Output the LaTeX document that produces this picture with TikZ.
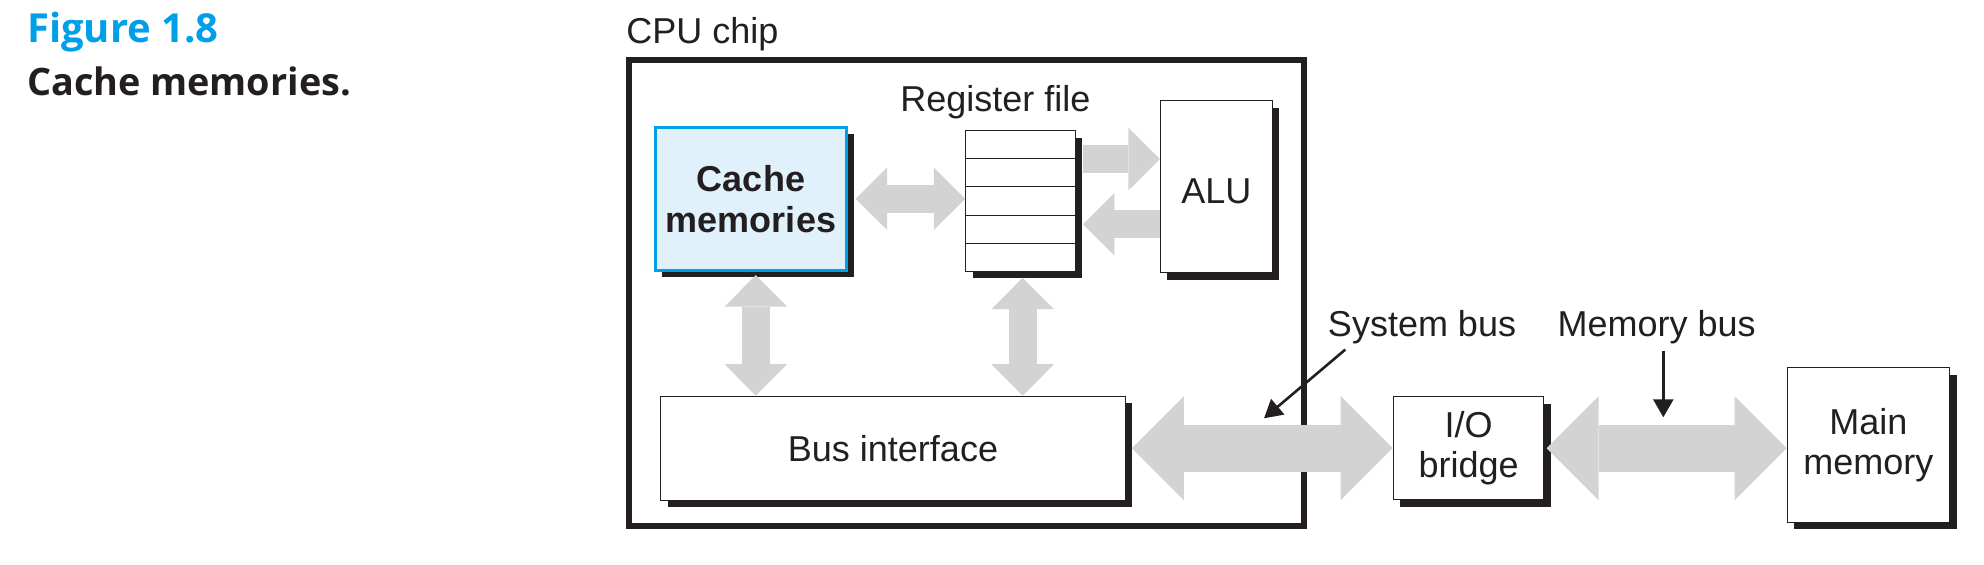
\documentclass[tikz,border=0pt]{standalone}
\usepackage{fontspec}
\setmainfont{Liberation Sans}
\newfontfamily\capfont{Open Sans}
\usetikzlibrary{arrows.meta, positioning, calc, shadows}
\definecolor{figcol}{HTML}{00A0E9}
\definecolor{cachecol}{HTML}{E1F1FB}
\definecolor{inkcol}{HTML}{231F20}
\definecolor{buscol}{HTML}{D3D3D3}

\begin{document}
\begin{tikzpicture}[
    x=0.5pt, y=-0.5pt,
    Fat/.tip={Triangle[width=31.25pt, length=15.75pt, line width=0pt]},
    Wide/.tip={Triangle[width=52pt, length=26pt, line width=0pt]},
    Ptr/.tip={Triangle[width=10pt, length=9pt]},
    unit/.style={
        draw=inkcol, fill=white, line width=0.5pt, align=center, inner sep=0pt,
        text=inkcol, font=\fontsize{18}{20}\selectfont,
        general shadow={fill=inkcol, shadow xshift=3.5pt, shadow yshift=-3.5pt}
    },
    tag/.style={
        font=\fontsize{18}{20}\selectfont, text=inkcol, inner sep=0pt
    },
    thinbus/.style={buscol, line width=13.85pt, Fat-Fat},
    thinfwd/.style={buscol, line width=13.85pt, -Fat},
    widebus/.style={buscol, line width=23.65pt, Wide-Wide},
    pointer/.style={draw=inkcol, line width=1.3pt, -Ptr},
]
\useasboundingbox (0,0) rectangle (1984,564);

% ── Caption ──
\node[anchor=base west, inner sep=0pt, text=figcol,
      font=\capfont\bfseries\fontsize{20}{24}\selectfont] (fignum) at (26.7,42.7) {Figure 1.8};
\node[anchor=base west, inner sep=0pt, text=inkcol,
      font=\capfont\bfseries\fontsize{18.9}{24}\selectfont] (figcap) at (26.7,95) {Cache memories.};

% ── CPU chip ──
\node[draw=inkcol, line width=3pt, minimum width=337.35pt, minimum height=233pt] (chip) at (966.3,293.3) {};
\node[tag, above right=3.2pt and 0pt of chip.north west] (chiplabel) {CPU chip};

% ── Units ──
\node[unit, fill=cachecol, draw=figcol, line width=1.35pt, minimum width=95.7pt, minimum height=71.5pt,
      font=\fontsize{18}{20.5}\selectfont\bfseries] (cache) at (751,198.8) {Cache\\memories};
\node[unit, minimum width=54.7pt, minimum height=70.2pt] (reg) at (1020.5,201) {};
\node[tag, above=5.5pt of reg.north, xshift=-12.6pt] (reglabel) {Register file};
\node[unit, minimum width=55.85pt, minimum height=86.15pt, text height=16.5pt] (alu) at (1216.3,186.7) {ALU};
\node[unit, minimum width=232.2pt, minimum height=52pt] (bus) at (893,448.2) {Bus interface};
\node[unit, minimum width=75.35pt, minimum height=51.5pt, right=133.5pt of bus] (io) {I/O\\bridge};
\node[unit, minimum width=81.3pt, minimum height=77.3pt, right=121.1pt of io, yshift=1.6pt] (mem) {Main\\memory};

% ── Register rows ──
\foreach \k in {1,...,4}
    \draw[inkcol, line width=0.5pt] ($(reg.north west)!\k/5!(reg.south west)$) -- ($(reg.north east)!\k/5!(reg.south east)$);

% ── Internal paths ──
\draw[thinbus, shorten <=3.8pt] (cache.east) -- (cache.east -| reg.west);
\draw[thinbus, shorten <=1.7pt] ([xshift=2.4pt]cache.south) -- ([xshift=2.4pt]cache.south |- bus.north);
\draw[thinbus, shorten <=3pt] ([xshift=1.1pt]reg.south) -- ([xshift=1.1pt]reg.south |- bus.north);
\draw[thinfwd, shorten <=3.8pt] ([yshift=21pt]reg.east) -- ([yshift=21pt]reg.east -| alu.west);
\draw[thinfwd, shorten >=3.6pt] ([yshift=-11.65pt]reg.east -| alu.west) -- ([yshift=-11.65pt]reg.east);

% ── Buses ──
\draw[widebus, shorten <=3.1pt] (bus.east) -- (bus.east -| io.west);
\draw[widebus, shorten <=1.1pt] (io.east) -- (io.east -| mem.west);

% ── Bus labels ──
\node[tag, anchor=base] (sysbus) at (1422,336.7) {System bus};
\node[tag, anchor=base] (membus) at (1656.7,336.7) {Memory bus};
\coordinate (systip) at (1264,418.3);
\coordinate (memtip) at (1663.3,417.3);
\draw[pointer] ([xshift=8.85pt, yshift=-2.5pt]sysbus.south west) -- (systip);
\draw[pointer] ([xshift=3.3pt, yshift=-3.2pt]membus.south) -- (memtip);

\end{tikzpicture}
\end{document}
